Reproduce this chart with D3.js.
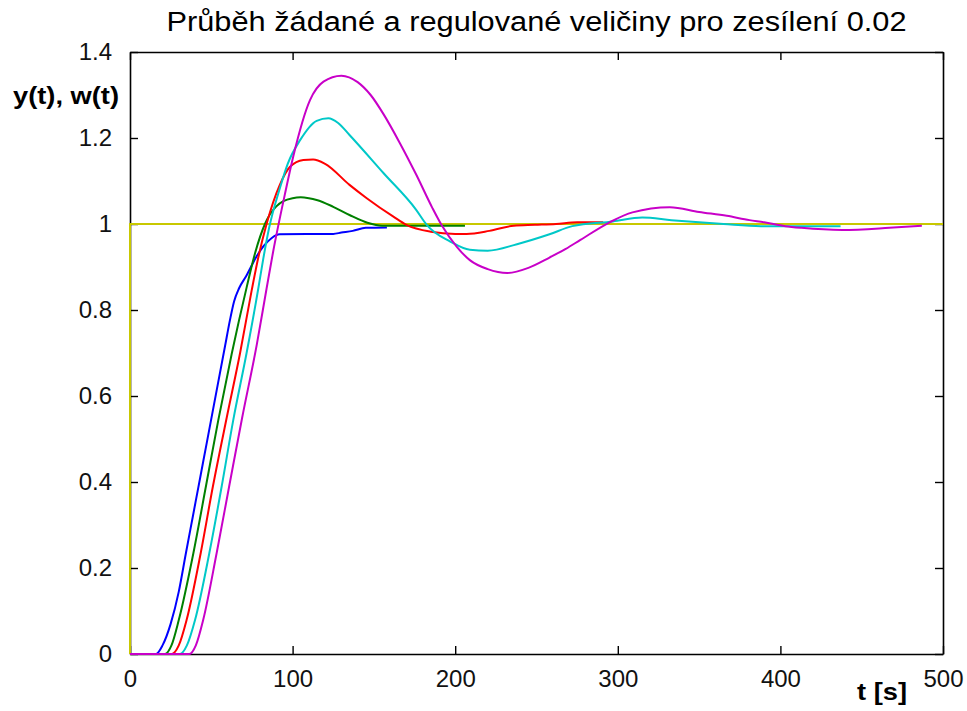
<!DOCTYPE html>
<html>
<head>
<meta charset="utf-8">
<script src="https://cdn.jsdelivr.net/npm/d3@7"></script>
<style>
  body { margin: 0; background: #fff; }
  text { font-family: "Liberation Sans", Arial, sans-serif; }
</style>
</head>
<body>
<div id="chart"></div>
<script>
// time [s], value pairs
const blueData = [[0,0],[16,0],[20,0.02],[25,0.07],[30,0.145],[34.4,0.235],[38.5,0.317],[42,0.387],[45,0.447],[49,0.527],[53.3,0.613],[58.4,0.715],[61.5,0.777],[64,0.82],[67,0.85],[71.3,0.878],[77.9,0.925],[82,0.948],[87,0.967],[92,0.976],[125,0.977],[130,0.98],[137,0.984],[145,0.991],[158,0.992]];
const greenData = [[0,0],[21.5,0],[25.5,0.02],[30,0.079],[39,0.235],[46.7,0.39],[54.3,0.544],[62.5,0.697],[71.7,0.852],[76.9,0.932],[83,1.0],[86,1.022],[90,1.041],[94.3,1.053],[100,1.06],[105,1.062],[110,1.06],[114.8,1.056],[125,1.04],[135,1.021],[146,1.003],[155,0.996],[206,0.996]];
const redData = [[0,0],[25.6,0],[30,0.02],[34.8,0.079],[43.5,0.235],[51,0.39],[59.5,0.55],[67.7,0.7],[74.8,0.845],[78.9,0.922],[84,1.0],[88,1.05],[92,1.09],[98.4,1.133],[106.6,1.149],[112.6,1.15],[120,1.14],[135,1.091],[145.6,1.06],[162,1.017],[170,0.998],[185,0.982],[200,0.977],[207,0.977],[221,0.984],[236,0.996],[249,0.998],[262,1.0],[275,1.004],[291,1.004]];
const cyanData = [[0,0],[30.7,0],[35,0.02],[40,0.079],[48.8,0.235],[56.4,0.39],[63.5,0.544],[71.7,0.7],[78.9,0.85],[82,0.92],[85.5,0.99],[92.3,1.085],[97,1.14],[104.6,1.195],[114.8,1.24],[122,1.246],[128,1.235],[135,1.207],[156,1.118],[176,1.033],[182.5,0.998],[197,0.959],[209,0.94],[220,0.938],[238,0.953],[258,0.976],[272,0.995],[297,1.006],[315,1.015],[333,1.009],[350,1.004],[365,1.0],[388,0.995],[437,0.995]];
const magentaData = [[0,0],[36.5,0],[40.5,0.02],[45,0.079],[53.3,0.235],[61,0.39],[69,0.55],[78,0.72],[84,0.85],[88,0.935],[95.3,1.07],[100.4,1.157],[110.7,1.288],[119,1.331],[130,1.345],[140,1.33],[148,1.3],[156,1.255],[166,1.188],[176,1.115],[186,1.037],[191.7,0.997],[201,0.947],[209,0.916],[220,0.895],[232,0.886],[245,0.898],[258,0.922],[268,0.942],[277,0.963],[295,1.004],[309,1.027],[332,1.039],[350,1.028],[367,1.019],[381,1.009],[390,1.004],[403,0.995],[413,0.991],[438,0.986],[467,0.991],[487,0.996]];
const setpointData = [[0,0],[0,1],[500,1]];

const xTicks = [0, 100, 200, 300, 400, 500];
const yTicks = [0, 0.2, 0.4, 0.6, 0.8, 1, 1.2, 1.4];

const titleText = "Průběh žádané a regulované veličiny pro zesílení 0.02";
const yLabelText = "y(t), w(t)";
const xLabelText = "t [s]";

const width = 967,
  height = 711,
  margin = { top: 52, bottom: 57, left: 130, right: 24 },
  tickLen = 8;

const svg = d3.select("#chart")
  .append("svg")
  .attr("width", width)
  .attr("height", height);

const xScale = d3.scaleLinear()
  .domain([0, 500])
  .range([margin.left, width - margin.right]);

const yScale = d3.scaleLinear()
  .domain([0, 1.4])
  .range([height - margin.bottom, margin.top]);

// axes: bottom/left with labels, top/right mirrored ticks, all pointing inward
svg.append("g")
  .attr("class", "xAxis")
  .attr("transform", `translate(0, ${yScale(0)})`)
  .call(d3.axisBottom(xScale).tickValues(xTicks).tickSizeInner(-tickLen).tickSizeOuter(0).tickPadding(16).tickFormat(d3.format("d")));

svg.append("g")
  .attr("class", "xAxisTop")
  .attr("transform", `translate(0, ${yScale(1.4)})`)
  .call(d3.axisTop(xScale).tickValues(xTicks).tickSizeInner(-tickLen).tickSizeOuter(0).tickFormat(""));

svg.append("g")
  .attr("class", "yAxis")
  .attr("transform", `translate(${xScale(0)}, 0)`)
  .call(d3.axisLeft(yScale).tickValues(yTicks).tickSizeInner(-tickLen).tickSizeOuter(0).tickPadding(18).tickFormat(d => d3.format("")(+d.toFixed(1))));

svg.append("g")
  .attr("class", "yAxisRight")
  .attr("transform", `translate(${xScale(500)}, 0)`)
  .call(d3.axisRight(yScale).tickValues(yTicks).tickSizeInner(-tickLen).tickSizeOuter(0).tickFormat(""));

svg.selectAll(".xAxis, .xAxisTop, .yAxis, .yAxisRight")
  .selectAll("path")
  .attr("stroke", "#000")
  .attr("stroke-width", 1.6);

svg.selectAll(".xAxis, .xAxisTop, .yAxis, .yAxisRight")
  .selectAll("line")
  .attr("stroke", "#000")
  .attr("stroke-width", 1.4);

svg.selectAll(".xAxis text, .yAxis text")
  .attr("font-size", 24)
  .attr("fill", "#111");

const line = d3.line()
  .x(d => xScale(d[0]))
  .y(d => yScale(d[1]));

const smoothLine = d3.line()
  .x(d => xScale(d[0]))
  .y(d => yScale(d[1]))
  .curve(d3.curveMonotoneX);

// setpoint w(t)
svg.append("path")
  .datum(setpointData)
  .attr("d", line)
  .attr("fill", "none")
  .attr("stroke", "#c8c800")
  .attr("stroke-width", 2);

const series = [
  { data: blueData, color: "#0000ff" },
  { data: greenData, color: "#008000" },
  { data: redData, color: "#ff0000" },
  { data: cyanData, color: "#00c8c8" },
  { data: magentaData, color: "#c800c8" }
];

svg.selectAll(".curve")
  .data(series)
  .join("path")
  .attr("class", "curve")
  .attr("d", d => smoothLine(d.data))
  .attr("fill", "none")
  .attr("stroke", d => d.color)
  .attr("stroke-width", 2);

// title and axis labels
svg.append("text")
  .attr("x", (xScale(0) + xScale(500)) / 2)
  .attr("y", 31)
  .attr("text-anchor", "middle")
  .attr("font-size", 27)
  .attr("textLength", 740)
  .attr("lengthAdjust", "spacingAndGlyphs")
  .attr("fill", "#000")
  .text(titleText);

svg.append("text")
  .attr("x", 13)
  .attr("y", 104)
  .attr("font-size", 23)
  .attr("font-weight", "bold")
  .attr("textLength", 106)
  .attr("lengthAdjust", "spacingAndGlyphs")
  .attr("fill", "#000")
  .text(yLabelText);

svg.append("text")
  .attr("x", 857)
  .attr("y", 700)
  .attr("font-size", 24)
  .attr("font-weight", "bold")
  .attr("textLength", 50)
  .attr("lengthAdjust", "spacingAndGlyphs")
  .attr("fill", "#000")
  .text(xLabelText);
</script>
</body>
</html>
